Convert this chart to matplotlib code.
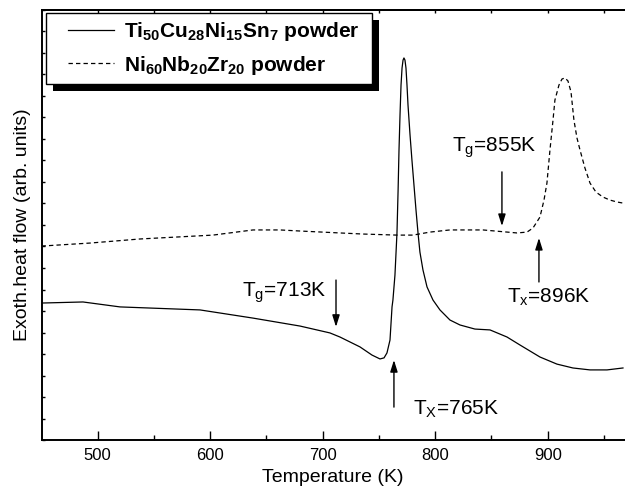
import matplotlib
matplotlib.use("Agg")
import matplotlib.pyplot as plt
from matplotlib.patches import Rectangle

plt.rcParams['font.family'] = ['Liberation Sans', 'DejaVu Sans']
plt.rcParams['mathtext.fontset'] = 'custom'
plt.rcParams['mathtext.rm'] = 'Liberation Sans'
plt.rcParams['mathtext.it'] = 'Liberation Sans:italic'
plt.rcParams['mathtext.bf'] = 'Liberation Sans:bold'

# Ti50Cu28Ni15Sn7 powder (solid)
T_ti = [450, 486.9, 519.8, 590.9, 638, 679.8, 706.4, 715.3, 733.1, 743.8, 750.9,
        754.5, 757.1, 759.8, 761.6, 762.4, 764.2, 766, 767, 767.8, 768.7, 769.6,
        770.5, 771.4, 772.2, 773.1, 774, 774.9, 775.8, 777.6, 779.3, 781.1, 782.9,
        784.7, 786.4, 789.1, 792.7, 798, 804.2, 813.1, 822, 835.3, 848.7, 863.8,
        875.3, 893.1, 908.2, 922.4, 937.6, 952.7, 966.9]
y_ti = [6.37, 6.42, 6.19, 6.05, 5.67, 5.30, 4.98, 4.79, 4.33, 3.95, 3.77,
        3.82, 4.05, 4.65, 6.19, 6.51, 7.67, 9.63, 11.63, 13.49, 15.12, 16.51,
        17.30, 17.67, 17.77, 17.67, 17.30, 16.51, 15.58, 14.19, 13.02, 11.86, 10.70,
        9.63, 8.74, 7.91, 7.12, 6.51, 6.05, 5.58, 5.35, 5.16, 5.12, 4.79,
        4.42, 3.86, 3.53, 3.35, 3.26, 3.26, 3.35]

# Ni60Nb20Zr20 powder (dashed)
T_ni = [450, 493.1, 537.6, 602.4, 638, 662, 679.8, 715.3, 735.6, 766, 780.2,
        795.3, 813.1, 842.4, 872.7, 881.6, 886.9, 893.1, 896.7, 899.3, 902,
        904.7, 906.4, 910, 912.7, 915.3, 918, 920.7, 923.3, 926, 928.7, 933.1,
        937.6, 942.9, 949.1, 955.3, 961.6, 966.9]
y_ni = [9.02, 9.16, 9.35, 9.53, 9.77, 9.77, 9.72, 9.63, 9.58, 9.53, 9.53,
        9.67, 9.77, 9.77, 9.63, 9.67, 9.86, 10.37, 11.16, 11.95, 13.49,
        14.88, 15.81, 16.51, 16.79, 16.84, 16.70, 16.19, 14.88, 14.05, 13.49, 12.65,
        11.95, 11.53, 11.30, 11.16, 11.07, 11.02]

labels = [r'$\mathbf{Ti_{50}Cu_{28}Ni_{15}Sn_{7}}$ powder',
          r'$\mathbf{Ni_{60}Nb_{20}Zr_{20}}$ powder']

# annotations: text, text position, arrow start, arrow end
notes = [(r'$\mathrm{T_g}$=713K', (628.2, 6.65), (711.8, 7.44), (711.8, 5.26)),
         (r'$\mathrm{T_X}$=765K', (780.2, 1.16), (763.3, 1.53), (763.3, 3.72)),
         (r'$\mathrm{T_g}$=855K', (814.9, 13.4), (859.3, 12.47), (859.3, 9.95)),
         (r'$\mathrm{T_x}$=896K', (863.8, 6.37), (892.2, 7.35), (892.2, 9.40))]

fig = plt.figure(figsize=(6.25, 4.94), dpi=100)
W, H = 625.0, 494.0
ax = fig.add_axes([41.5 / W, 1 - 440 / H, (W - 41.5) / W, 430 / H])

ax.plot(T_ti, y_ti, color='k', lw=0.9, label=labels[0])
ax.plot(T_ni, y_ni, color='k', lw=0.9, dashes=(3.5, 2.5), label=labels[1])

for txt, pos, a0, a1 in notes:
    ax.text(pos[0], pos[1], txt, fontsize=15, ha='left', va='baseline')
    ax.annotate('', xy=a1, xytext=a0,
                arrowprops=dict(arrowstyle='-|>,head_length=0.7,head_width=0.22',
                                color='k', lw=1, shrinkA=0, shrinkB=0))

ax.set_xlim(450, 968.7)
ax.set_ylim(0, 20)
ax.set_xticks([500, 600, 700, 800, 900])
ax.set_xticks([550, 650, 750, 850, 950], minor=True)
ax.set_yticks(range(0, 21))
ax.set_yticklabels([])
ax.tick_params(axis='x', which='major', direction='in', length=6.5, width=1, labelsize=12, pad=6)
ax.tick_params(axis='x', which='minor', direction='in', length=3.6, width=1)
ax.tick_params(axis='y', which='major', direction='in', length=2.2, width=1)
ax.spines['right'].set_visible(False)
for s in ['left', 'bottom', 'top']:
    ax.spines[s].set_linewidth(1.4)

top = ax.secondary_xaxis('top')
top.set_xticks([500, 600, 700, 800, 900, 550, 650, 750, 850, 950])
top.set_xticklabels([])
top.tick_params(direction='in', length=2, width=1)
top.spines['top'].set_linewidth(1.4)

ax.set_xlabel('Temperature (K)', fontsize=14, labelpad=4)
ax.set_ylabel('Exoth.heat flow (arb. units)', fontsize=14, labelpad=4)

# legend frame with a solid shadow
ax.add_patch(Rectangle((53 / W, 1 - 91 / H), 326 / W, 71 / H, transform=fig.transFigure,
                       facecolor='k', edgecolor='none', zorder=5, clip_on=False))
ax.add_patch(Rectangle((46 / W, 1 - 84 / H), 326 / W, 71 / H, transform=fig.transFigure,
                       facecolor='white', edgecolor='k', lw=1, zorder=6, clip_on=False))
leg = ax.legend(loc='upper left', bbox_to_anchor=(62 / W, 1 - 14 / H),
                bbox_transform=fig.transFigure, frameon=False,
                prop={'weight': 'bold', 'size': 15}, handlelength=2.2,
                handletextpad=0.5, labelspacing=0.5, borderaxespad=0, borderpad=0.3)
leg.set_zorder(7)

fig.savefig('out.png', dpi=100)
